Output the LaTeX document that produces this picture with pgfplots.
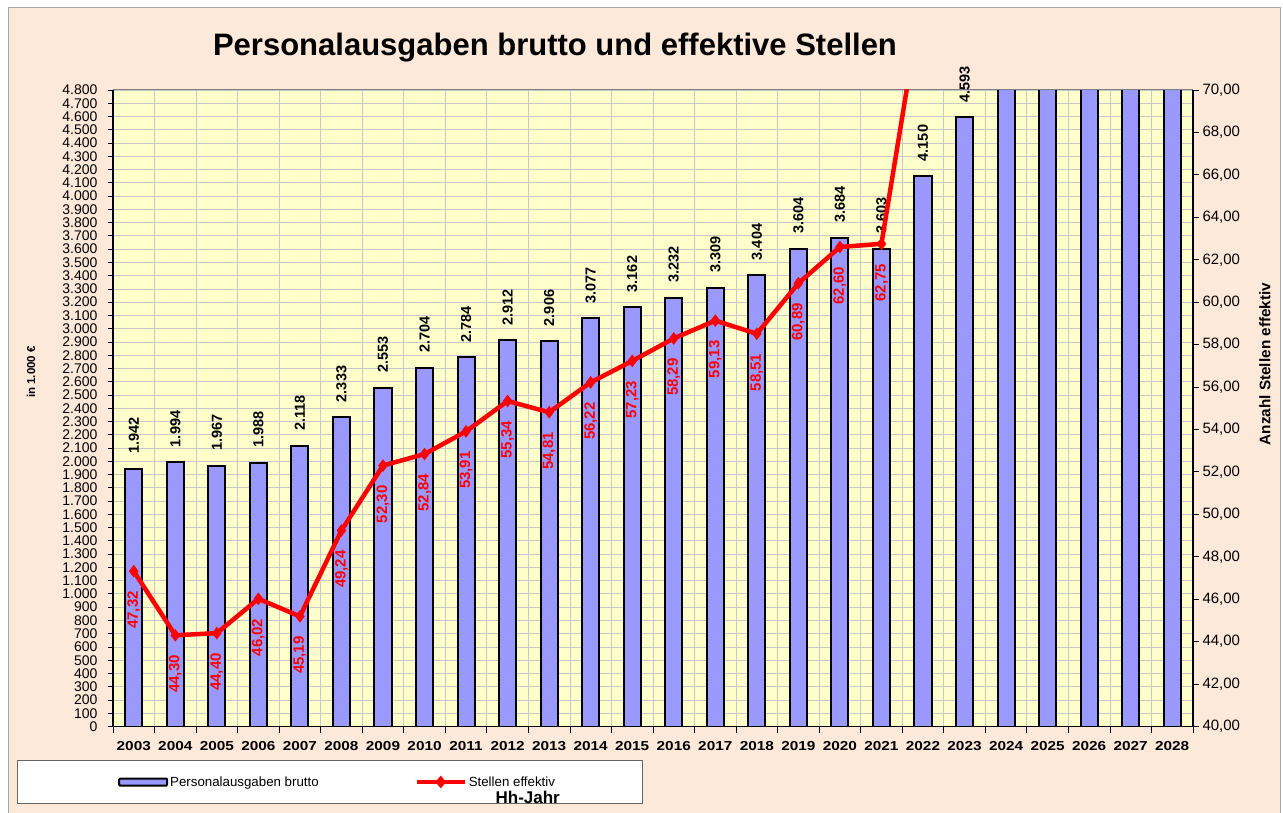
\documentclass[border=0pt]{standalone}
\usepackage{pgfplots}
\pgfplotsset{compat=1.18, /pgf/number format/assume math mode=true}
\usepackage{pgfplotstable}
\usepackage{fontspec}
\setmainfont{Liberation Sans}
\newfontfamily\widefont[FakeStretch=1.18]{Liberation Sans}

\definecolor{bgpeach}{RGB}{253,233,217}
\definecolor{plotyellow}{RGB}{255,255,204}
\definecolor{barblue}{RGB}{153,153,255}
\definecolor{gridgray}{RGB}{200,200,200}

\pgfplotstableread{
x year val
0 2003 1942
1 2004 1994
2 2005 1967
3 2006 1988
4 2007 2118
5 2008 2333
6 2009 2553
7 2010 2704
8 2011 2784
9 2012 2912
10 2013 2906
11 2014 3077
12 2015 3162
13 2016 3232
14 2017 3309
15 2018 3404
16 2019 3604
17 2020 3684
18 2021 3603
19 2022 4150
20 2023 4593
21 2024 5000
22 2025 5000
23 2026 5000
24 2027 5000
25 2028 5000
}\bars

\pgfplotstableread{
x stellen
0 47.32
1 44.30
2 44.40
3 46.02
4 45.19
5 49.24
6 52.30
7 52.84
8 53.91
9 55.34
10 54.81
11 56.22
12 57.23
13 58.29
14 59.13
15 58.51
16 60.89
17 62.60
18 62.75
19 74.70
20 80.00
}\stellen

\begin{document}
\begin{tikzpicture}[x=1pt,y=1pt]
\path[use as bounding box] (0,0) rectangle (1283,812);
\fill[white] (0,0) rectangle (1283,812);
\filldraw[fill=bgpeach, draw=gray!70, line width=1pt] (8.3,-5) rectangle (1280,804.3);
\node[font=\bfseries\fontsize{31}{34}\selectfont, anchor=base] at (555,756) {Personalausgaben brutto und effektive Stellen};
\filldraw[fill=white, draw=gray!80!black, line width=0.8pt] (17,9) rectangle (642,52);

\begin{axis}[
  at={(113pt,85.5pt)}, anchor=south west,
  width=1080pt, height=636.5pt, scale only axis,
  xmin=-0.5, xmax=25.5, ymin=0, ymax=4800,
  axis x line*=bottom, axis y line*=left,
  axis line style={-, black, line width=1.2pt},
  axis background/.style={fill=plotyellow},
  tick align=outside,
  major tick length=5pt, minor tick length=6pt,
  xtick={0,...,25},
  xticklabels={2003,2004,2005,2006,2007,2008,2009,2010,2011,2012,2013,2014,2015,2016,2017,2018,2019,2020,2021,2022,2023,2024,2025,2026,2027,2028},
  major x tick style={draw=none},
  minor xtick={-0.5,0.5,...,25.5},
  minor x tick style={black, line width=0.8pt},
  xminorgrids=true,
  ytick={0,100,...,4800},
  ymajorgrids=true,
  major y tick style={black, line width=0.8pt},
  grid style={gridgray, line width=0.8pt},
  minor grid style={gridgray, line width=0.8pt},
  scaled y ticks=false,
  xticklabel style={font=\widefont\bfseries\fontsize{13}{13}\selectfont, yshift=-6pt},
  yticklabel style={font=\fontsize{14}{14}\selectfont, xshift=-7pt, /pgf/number format/.cd, fixed, precision=0, 1000 sep={.}},
  ylabel={in 1.000 €},
  ylabel style={at={(axis description cs:-0.0759,0.557)}, anchor=center, font=\bfseries\fontsize{11.5}{11.5}\selectfont},
  xlabel={Hh-Jahr},
  xlabel style={at={(axis description cs:0.384,-0.1108)}, anchor=center, font=\bfseries\fontsize{17}{17}\selectfont},
]
\addplot[ybar, bar width=0.41, fill=barblue, draw=black, line width=2pt] table[x=x, y=val] {\bars};
\addplot[draw=none, mark=none, restrict x to domain=0:20,
  nodes near coords,
  every node near coord/.append style={rotate=90, anchor=west, inner sep=0pt, outer xsep=15pt,
    font=\bfseries\fontsize{14.5}{14.5}\selectfont, text=black,
    /pgf/number format/.cd, fixed, precision=0, 1000 sep={.}}]
  table[x=x, y=val] {\bars};
\draw[gray, line width=1pt] (rel axis cs:0,1) -- (rel axis cs:1,1);
\end{axis}

\begin{axis}[
  at={(113pt,85.5pt)}, anchor=south west,
  width=1080pt, height=636.5pt, scale only axis,
  xmin=-0.5, xmax=25.5, ymin=40, ymax=70,
  axis y line*=right, axis x line=none,
  axis line style={-, black, line width=1.2pt},
  tick align=outside, major tick length=6pt,
  ytick={40,42,...,70},
  major y tick style={black, line width=0.8pt},
  yticklabel style={font=\fontsize{15}{15}\selectfont, /pgf/number format/.cd, fixed, fixed zerofill, precision=2, use comma},
  ylabel={Anzahl Stellen effektiv},
  ylabel style={at={(axis description cs:1.0667,0.5695)}, anchor=center, rotate=0, font=\bfseries\fontsize{15.3}{15.3}\selectfont},
  legend entries={Personalausgaben brutto, Stellen effektiv},
  legend columns=2,
  legend cell align=left,
  legend style={at={(0.0046,-0.0872)}, anchor=west, draw=none, fill=none, inner sep=0pt,
    font=\fontsize{13.3}{13.3}\selectfont,
    /tikz/every even column/.append style={column sep=94pt}},
]
\addlegendimage{legend image code/.code={\draw[fill=barblue, draw=black, line width=2pt, rounded corners=1pt] (0pt,-3.5pt) rectangle (48pt,3.5pt);}}
\addlegendimage{legend image code/.code={\draw[red, line width=4pt] (0pt,0pt) -- (48pt,0pt); \fill[red] (24pt,6pt) -- (29pt,0pt) -- (24pt,-6pt) -- (19pt,0pt) -- cycle;}}
\addplot[red, line width=4.5pt, line join=round, forget plot] table[x=x, y=stellen] {\stellen};
\addplot[only marks, mark=diamond*, mark size=6pt, red, restrict x to domain=0:18, forget plot,
  nodes near coords,
  every node near coord/.append style={rotate=90, anchor=east, inner sep=0pt, outer xsep=20pt,
    font=\bfseries\fontsize{15}{15}\selectfont, text=red,
    /pgf/number format/.cd, fixed, fixed zerofill, precision=2, use comma}]
  table[x=x, y=stellen] {\stellen};
\end{axis}
\end{tikzpicture}
\end{document}
